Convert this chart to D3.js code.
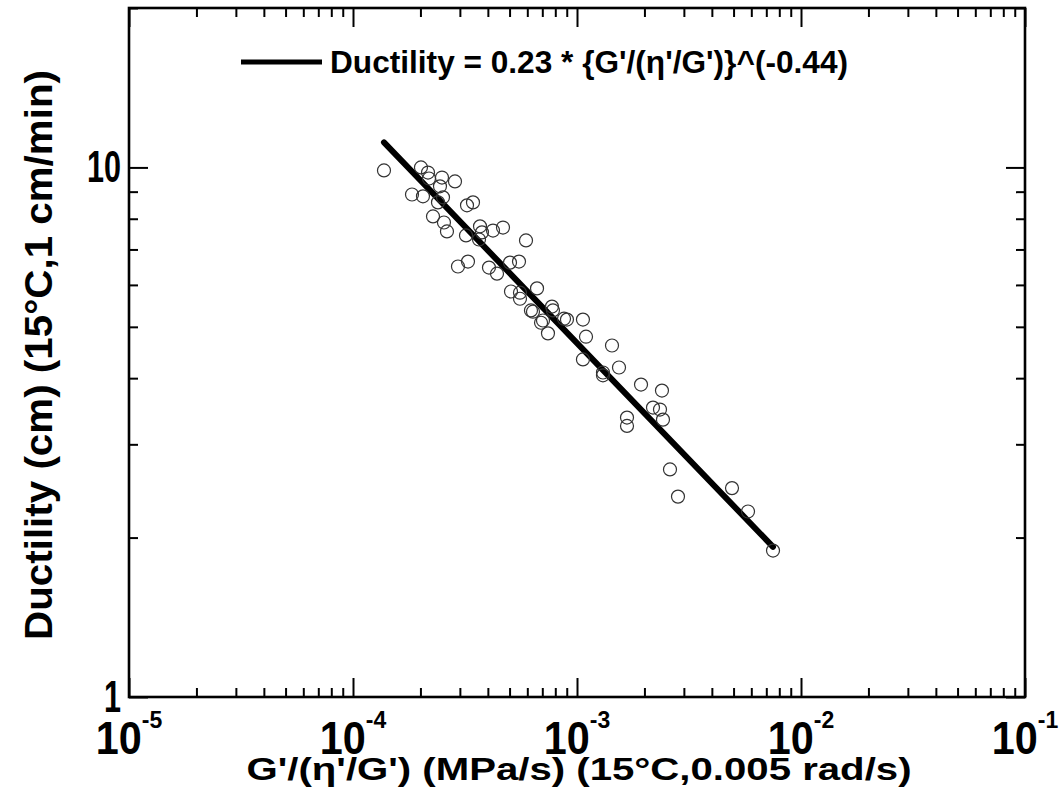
<!DOCTYPE html>
<html>
<head>
<meta charset="utf-8">
<script src="https://cdn.jsdelivr.net/npm/d3@7"></script>
<style>
  html, body { margin: 0; padding: 0; background: #fff; }
  svg { display: block; }
  text { font-family: "Liberation Sans", Arial, sans-serif; font-weight: bold; fill: #000; }
</style>
</head>
<body>
<svg id="chart" width="1062" height="789"></svg>
<script>
// ---- data ----
const modulus = [
  1.375e-4, 2.011e-4, 2.162e-4, 2.184e-4, 2.496e-4, 2.853e-4, 2.445e-4, 1.834e-4, 2.053e-4, 2.522e-4,
  2.396e-4, 3.228e-4, 3.433e-4, 2.276e-4, 2.547e-4, 2.627e-4, 3.195e-4, 3.69e-4, 3.765e-4, 3.652e-4,
  4.217e-4, 4.673e-4, 5.92e-4, 2.942e-4, 3.261e-4, 4.046e-4, 4.394e-4, 5.022e-4, 5.509e-4, 5.074e-4,
  5.565e-4, 5.565e-4, 6.63e-4, 6.23e-4, 6.36e-4, 7.73e-4, 7.81e-4, 6.91e-4, 7.05e-4, 7.42e-4,
  8.75e-4, 9.02e-4, 1.063e-3, 1.097e-3, 1.063e-3, 1.433e-3, 1.306e-3, 1.306e-3, 1.54e-3, 1.931e-3,
  2.395e-3, 2.184e-3, 2.347e-3, 2.42e-3, 1.672e-3, 1.672e-3, 2.601e-3, 2.824e-3, 4.92e-3, 5.80e-3,
  7.50e-3
];
const ductility = [
  9.87, 10.0, 9.78, 9.53, 9.57, 9.41, 9.21, 8.89, 8.82, 8.78,
  8.59, 8.48, 8.59, 8.08, 7.87, 7.57, 7.44, 7.74, 7.54, 7.31,
  7.60, 7.70, 7.28, 6.50, 6.64, 6.47, 6.30, 6.61, 6.64, 5.83,
  5.80, 5.65, 5.91, 5.37, 5.34, 5.46, 5.37, 5.09, 5.14, 4.86,
  5.18, 5.16, 5.16, 4.79, 4.34, 4.61, 4.10, 4.05, 4.19, 3.89,
  3.79, 3.52, 3.49, 3.34, 3.37, 3.25, 2.69, 2.39, 2.48, 2.24,
  1.89
];
const fitX = [1.375e-4, 7.50e-3];
const fitY = [11.15, 1.921];
const fitLabel = "Ductility = 0.23 * {G'/(\u03B7'/G')}^(-0.44)";

const xMajorTicks = [1e-5, 1e-4, 1e-3, 1e-2, 1e-1];
const xTickExponents = ["-5", "-4", "-3", "-2", "-1"];
const yMajorTicks = [1, 10];
const yTickLabels = ["1", "10"];
const xDomain = [1e-5, 1e-1];
const yDomain = [1, 20];
const xTitle = "G'/(\u03B7'/G') (MPa/s) (15\u00B0C,0.005 rad/s)";
const yTitle = "Ductility (cm) (15\u00B0C,1 cm/min)";

// ---- layout ----
const L = 129, R = 1025, T = 8, B = 697;
const majorLen = 19, minorLen = 9;

const svg = d3.select("#chart");
const x = d3.scaleLog().domain(xDomain).range([L, R]);
const y = d3.scaleLog().domain(yDomain).range([B, T]);

// minor tick values (2..9 within each decade)
const xMinor = [];
for (let e = -5; e < -1; e++) for (let k = 2; k <= 9; k++) xMinor.push(k * Math.pow(10, e));
const yMinor = [2, 3, 4, 5, 6, 7, 8, 9, 20];

function tickAxis(axisFn, scale, vals, len, transform) {
  const g = svg.append("g").attr("transform", transform)
    .call(axisFn(scale).tickValues(vals).tickSizeInner(len).tickSizeOuter(0).tickFormat(""));
  g.select(".domain").remove();
  g.selectAll(".tick line").attr("stroke", "#000").attr("stroke-width", 2);
  return g;
}
// bottom & top (inward)
tickAxis(d3.axisTop, x, xMajorTicks, majorLen, `translate(0,${B})`);
tickAxis(d3.axisTop, x, xMinor, minorLen, `translate(0,${B})`);
tickAxis(d3.axisBottom, x, xMajorTicks, majorLen, `translate(0,${T})`);
tickAxis(d3.axisBottom, x, xMinor, minorLen, `translate(0,${T})`);
// left & right (inward)
tickAxis(d3.axisRight, y, yMajorTicks, majorLen, `translate(${L},0)`);
tickAxis(d3.axisRight, y, yMinor, minorLen, `translate(${L},0)`);
tickAxis(d3.axisLeft, y, yMajorTicks, majorLen, `translate(${R},0)`);
tickAxis(d3.axisLeft, y, yMinor, minorLen, `translate(${R},0)`);

// frame
svg.append("rect").attr("x", L).attr("y", T).attr("width", R - L).attr("height", B - T)
  .attr("fill", "none").attr("stroke", "#000").attr("stroke-width", 2.6);

// x tick labels 10^n
xMajorTicks.forEach((v, i) => {
  const t = svg.append("text").attr("x", x(v)).attr("y", 754)
    .attr("text-anchor", "middle").style("font-size", "46px");
  t.append("tspan").text("10").attr("textLength", 46).attr("lengthAdjust", "spacingAndGlyphs");
  t.append("tspan").text(xTickExponents[i]).attr("dy", -26).style("font-size", "23px");
});

// y tick labels
yMajorTicks.forEach((v, i) => {
  svg.append("text").attr("x", 121).attr("y", y(v) + 15)
    .attr("text-anchor", "end").style("font-size", "44px")
    .attr("textLength", yTickLabels[i].length * 17).attr("lengthAdjust", "spacingAndGlyphs")
    .text(yTickLabels[i]);
});

// axis titles
svg.append("text").attr("x", 579).attr("y", 780).attr("text-anchor", "middle")
  .style("font-size", "32px").attr("textLength", 665).attr("lengthAdjust", "spacingAndGlyphs")
  .text(xTitle);
svg.append("text").attr("transform", `translate(52,355) rotate(-90)`).attr("text-anchor", "middle")
  .style("font-size", "38px").attr("textLength", 570).attr("lengthAdjust", "spacingAndGlyphs")
  .text(yTitle);

// fit line
const line = d3.line().x(d => x(d[0])).y(d => y(d[1]));
svg.append("path").datum(d3.zip(fitX, fitY)).attr("d", line)
  .attr("fill", "none").attr("stroke", "#000").attr("stroke-width", 6).attr("stroke-linecap", "round");

// points
svg.append("g").selectAll("circle").data(d3.zip(modulus, ductility)).join("circle")
  .attr("cx", d => x(d[0])).attr("cy", d => y(d[1])).attr("r", 6.5)
  .attr("fill", "none").attr("stroke", "#333").attr("stroke-width", 1.2);

// legend
svg.append("line").attr("x1", 241).attr("x2", 322).attr("y1", 62).attr("y2", 62)
  .attr("stroke", "#000").attr("stroke-width", 5);
svg.append("text").attr("x", 330).attr("y", 73).style("font-size", "31px")
  .attr("textLength", 518).attr("lengthAdjust", "spacingAndGlyphs").text(fitLabel);
</script>
</body>
</html>
